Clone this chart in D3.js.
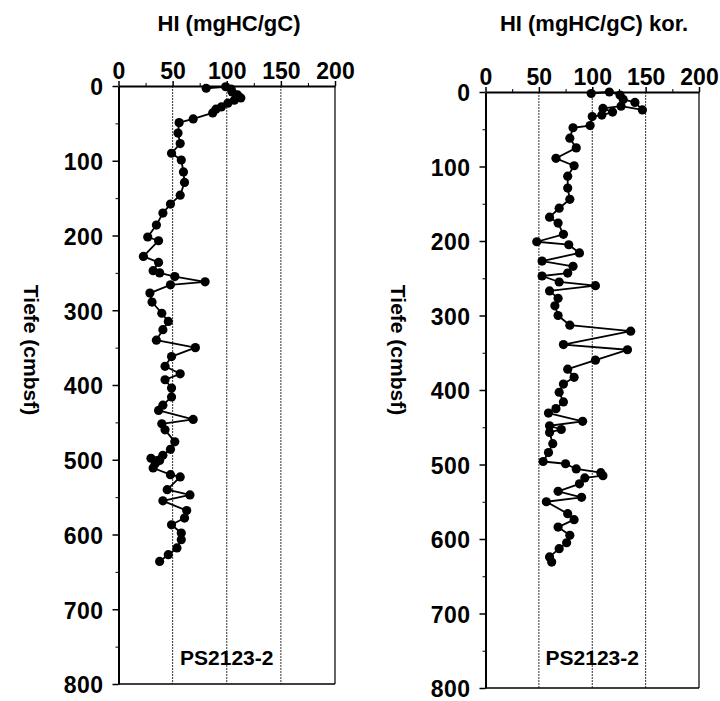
<!DOCTYPE html>
<html>
<head>
<meta charset="utf-8">
<script src="https://cdn.jsdelivr.net/npm/d3@7"></script>
<style>
  html, body { margin: 0; padding: 0; background: #fff; }
  svg { display: block; }
</style>
</head>
<body>
<svg id="chart" width="720" height="701"></svg>
<script>
// ---------- data ----------
const xTicks = [0, 50, 100, 150, 200];
const xMinorTicks = [25, 75, 125, 175];
const yTicks = [0, 100, 200, 300, 400, 500, 600, 700, 800];
const yMinorTicks = [50, 150, 250, 350, 450, 550, 650, 750];
const gridValues = [50, 100, 150];

const titleLeft = "HI (mgHC/gC)";
const titleRight = "HI (mgHC/gC) kor.";
const yLabel = "Tiefe (cmbsf)";
const coreLabel = "PS2123-2";

// HI, left panel (depth in cmbsf, HI in mgHC/gC)
const depthLeft = [3, 1, 4, 8, 12, 16, 19, 23, 28, 31, 36, 44, 49, 63, 77, 90, 99, 115, 129, 146,
  158, 170, 186, 202, 207, 228, 236, 247, 250, 255, 262, 266, 277, 289, 304, 315, 326, 340, 350, 362,
  375, 385, 393, 404, 416, 427, 434, 446, 452, 460, 476, 486, 494, 498, 501, 505, 511, 520, 523, 540,
  547, 555, 568, 578, 587, 598, 607, 618, 627, 636];
const hiLeft = [81, 99, 104, 105, 110, 113, 107, 101, 95, 90, 87, 69, 56, 55, 57, 49, 58, 60, 61, 57,
  48, 41, 35, 27, 37, 23, 37, 32, 38, 52, 80, 48, 29, 31, 40, 46, 41, 35, 71, 49,
  43, 57, 43, 49, 49, 41, 37, 69, 40, 43, 52, 48, 41, 30, 38, 34, 32, 48, 57, 45,
  66, 41, 63, 61, 49, 58, 58, 54, 46, 38];

// HI corrected, right panel
const depthRight = [2, 0, 4, 10, 14, 24, 19, 22, 27, 31, 33, 45, 48, 62, 75, 89, 99, 113, 129, 144,
  156, 168, 176, 191, 201, 205, 216, 227, 234, 243, 247, 255, 260, 267, 277, 287, 300, 313, 321, 339,
  346, 360, 372, 383, 392, 403, 416, 425, 431, 442, 448, 453, 457, 472, 484, 496, 499, 506, 511, 515,
  518, 526, 536, 544, 550, 566, 574, 584, 595, 605, 613, 624, 631];
const hiRight = [99, 116, 126, 129, 140, 147, 127, 110, 119, 109, 100, 98, 82, 79, 85, 66, 83, 77, 77, 79,
  69, 60, 68, 73, 48, 78, 88, 53, 82, 77, 53, 69, 103, 60, 68, 65, 68, 79, 136, 73,
  133, 103, 77, 83, 73, 69, 73, 66, 59, 91, 60, 71, 60, 63, 59, 54, 75, 85, 108, 110,
  93, 88, 68, 90, 57, 77, 83, 68, 79, 76, 69, 60, 62];

// ---------- drawing ----------
const svg = d3.select("#chart");
const font = "'Liberation Sans', Arial, Helvetica, sans-serif";

function drawPanel(cfg) {
  const x = d3.scaleLinear().domain([0, 200]).range([cfg.x0, cfg.x1]);
  const y = d3.scaleLinear().domain([0, 800]).range([cfg.y0, cfg.y1]);
  const g = svg.append("g");

  // grid lines
  g.selectAll("line.grid").data(gridValues).join("line")
    .attr("class", "grid")
    .attr("x1", d => x(d)).attr("x2", d => x(d))
    .attr("y1", y(0)).attr("y2", y(800))
    .attr("stroke", "#333").attr("stroke-width", 1)
    .attr("stroke-dasharray", "2,1");

  // right border at 200
  g.append("line")
    .attr("x1", x(200)).attr("x2", x(200))
    .attr("y1", y(0)).attr("y2", y(800))
    .attr("stroke", "#111").attr("stroke-width", 1.3);
  // bottom border
  g.append("line")
    .attr("x1", x(0)).attr("x2", x(200))
    .attr("y1", y(800)).attr("y2", y(800))
    .attr("stroke", "#000").attr("stroke-width", 1.6);

  // top axis
  const xAxis = d3.axisTop(x).tickValues(xTicks).tickSize(5).tickPadding(2).tickSizeOuter(0);
  const gx = g.append("g").attr("transform", `translate(0,${y(0)})`).call(xAxis);
  gx.select(".domain").attr("stroke-width", 2);
  gx.selectAll(".tick line").attr("stroke-width", 1.5);
  gx.selectAll(".tick text")
    .attr("font-family", font).attr("font-weight", "bold").attr("font-size", 23)
    .attr("fill", "#000");
  const xMinor = d3.axisTop(x).tickValues(xMinorTicks).tickSize(3).tickFormat("").tickSizeOuter(0);
  const gxm = g.append("g").attr("transform", `translate(0,${y(0)})`).call(xMinor);
  gxm.select(".domain").remove();

  // left axis
  const yAxis = d3.axisLeft(y).tickValues(yTicks).tickSize(6).tickPadding(9).tickSizeOuter(0);
  const gy = g.append("g").attr("transform", `translate(${x(0)},0)`).call(yAxis);
  gy.select(".domain").attr("stroke-width", 2);
  gy.selectAll(".tick line").attr("stroke-width", 1.5);
  gy.selectAll(".tick text")
    .attr("font-family", font).attr("font-weight", "bold").attr("font-size", 23)
    .attr("letter-spacing", 0.5)
    .attr("dy", "0.38em").attr("fill", "#000");
  const yMinor = d3.axisLeft(y).tickValues(yMinorTicks).tickSize(3).tickFormat("").tickSizeOuter(0);
  const gym = g.append("g").attr("transform", `translate(${x(0)},0)`).call(yMinor);
  gym.select(".domain").remove();

  // data line + points
  const pts = cfg.depth.map((d, i) => ({ d: d, v: cfg.hi[i] }));
  const line = d3.line().x(p => x(p.v)).y(p => y(p.d));
  g.append("path").datum(pts)
    .attr("d", line).attr("fill", "none")
    .attr("stroke", "#000").attr("stroke-width", 1.8).attr("stroke-linejoin", "round");
  g.selectAll("circle.pt").data(pts).join("circle")
    .attr("class", "pt")
    .attr("cx", p => x(p.v)).attr("cy", p => y(p.d)).attr("r", 4.6)
    .attr("fill", "#000");

  // title
  g.append("text")
    .attr("x", cfg.titleX).attr("y", 31)
    .attr("text-anchor", "middle")
    .attr("font-family", font).attr("font-weight", "bold").attr("font-size", 22)
    .text(cfg.title);

  // y label (rotated, reading top to bottom)
  g.append("text")
    .attr("transform", `translate(${cfg.yLabelX},350) rotate(90)`)
    .attr("text-anchor", "middle")
    .attr("font-family", font).attr("font-weight", "bold").attr("font-size", 21)
    .text(yLabel);

  // core label
  g.append("text")
    .attr("x", x(100)).attr("y", 665)
    .attr("text-anchor", "middle")
    .attr("font-family", font).attr("font-weight", "bold").attr("font-size", 21)
    .text(coreLabel);
}

drawPanel({ x0: 118.5, x1: 335, y0: 86, y1: 684, depth: depthLeft, hi: hiLeft,
  title: titleLeft, titleX: 229, yLabelX: 24 });
drawPanel({ x0: 485.5, x1: 699, y0: 92, y1: 688, depth: depthRight, hi: hiRight,
  title: titleRight, titleX: 594, yLabelX: 391 });
</script>
</body>
</html>
